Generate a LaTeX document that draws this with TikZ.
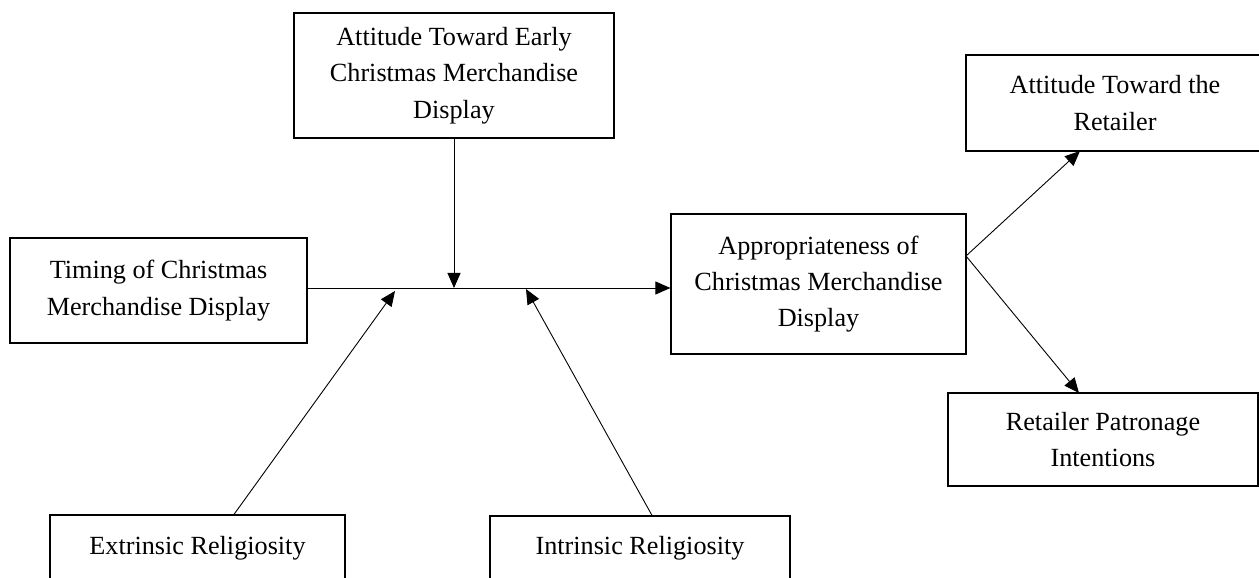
\documentclass[tikz,border=0pt]{standalone}
\usepackage{fontspec}
\setmainfont{Liberation Serif}
\usetikzlibrary{arrows.meta}
\begin{document}
\begin{tikzpicture}[x=1bp, y=-1bp,
	box/.style = {draw, line width=1.2bp, rectangle, align=center, inner sep=0pt, font=\fontsize{26.3}{36.5}\selectfont},
	arr/.style = {line width=0.9bp, -{Triangle[length=15bp, width=13bp]}}]
	\useasboundingbox (0,0) rectangle (1259,578);
	\clip (0,0) rectangle (1259,578);
	\node[box, minimum width=320bp, minimum height=125bp] (early) at (454,75.5) {Attitude Toward Early\\Christmas Merchandise\\Display};
	\node[box, minimum width=297bp, minimum height=105bp] (timing) at (158.5,290.5) {Timing of Christmas\\Merchandise Display\vphantom{\rule{0pt}{12bp}}};
	\node[box, minimum width=295bp, minimum height=140bp] (approp) at (818.5,284) {Appropriateness of\\Christmas Merchandise\\Display};
	\node[box, minimum width=298bp, minimum height=96bp] (ret) at (1115,103) {Attitude Toward the\\Retailer};
	\node[box, minimum width=310bp, minimum height=93bp] (patr) at (1103,439.5) {Retailer Patronage\\Intentions};
	\node[box, minimum width=295bp, minimum height=66bp] (extr) at (197.5,548) {Extrinsic Religiosity};
	\node[box, minimum width=300bp, minimum height=64bp] (intr) at (640,548) {Intrinsic Religiosity};
	\coordinate (jn) at (454,288);
	\coordinate (exttip) at (395,291);
	\coordinate (inttip) at (526,289);
	\coordinate (fork) at (966,256);
	\coordinate (rettip) at (1080,151);
	\coordinate (patrtip) at (1079,393);
	\draw[arr] (timing.east |- jn) -- (approp.west |- jn);
	\draw[arr] (early.south) -- (jn);
	\draw[arr] (extr.north -| 234,0) -- (exttip);
	\draw[arr] (intr.north -| 652,0) -- (inttip);
	\draw[arr] (fork) -- (rettip);
	\draw[arr] (fork) -- (patrtip);
\end{tikzpicture}
\end{document}
